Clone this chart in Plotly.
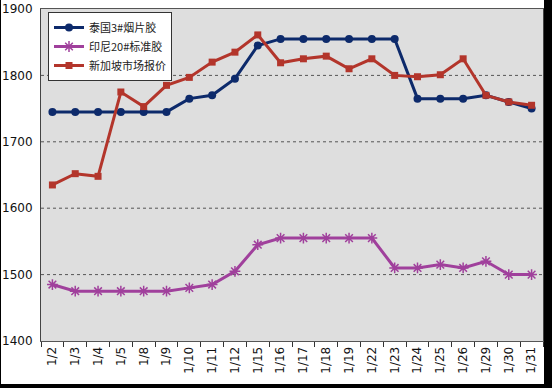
import plotly.graph_objects as go

dates = ["1/2","1/3","1/4","1/5","1/8","1/9","1/10","1/11","1/12","1/15","1/16",
         "1/17","1/18","1/19","1/22","1/23","1/24","1/25","1/26","1/29","1/30","1/31"]
thai = [1745,1745,1745,1745,1745,1745,1765,1770,1795,1845,1855,
        1855,1855,1855,1855,1855,1765,1765,1765,1770,1760,1750]
indo = [1485,1475,1475,1475,1475,1475,1480,1485,1505,1545,1555,
        1555,1555,1555,1555,1510,1510,1515,1510,1520,1500,1500]
sing = [1635,1652,1648,1775,1753,1785,1797,1820,1835,1861,1819,
        1825,1829,1810,1825,1800,1798,1801,1825,1770,1760,1755]
y_ticks = [1400,1500,1600,1700,1800,1900]

W, H = 552, 388
L, R, T, B = 41, 9, 9, 47
pw, ph = W - L - R, H - T - B

def px(x):
    return (x - L) / pw

def py(y):
    return (H - B - y) / ph

fig = go.Figure()
fig.add_trace(go.Scatter(x=dates, y=thai, name="泰国3#烟片胶", mode="lines+markers",
                         line=dict(color="#0d2a6b", width=3),
                         marker=dict(symbol="circle", size=8, color="#0d2a6b")))
fig.add_trace(go.Scatter(x=dates, y=indo, name="印尼20#标准胶", mode="lines+markers",
                         line=dict(color="#a0409c", width=3),
                         marker=dict(symbol="asterisk-open", size=9,
                                     line=dict(color="#b050ac", width=1.5))))
fig.add_trace(go.Scatter(x=dates, y=sing, name="新加坡市场报价", mode="lines+markers",
                         line=dict(color="#b3352b", width=3),
                         marker=dict(symbol="square", size=7, color="#b3352b")))

shapes = [
    dict(type="rect", xref="paper", yref="paper", x0=px(0), x1=px(1), y0=py(0), y1=py(H),
         fillcolor="black", line=dict(width=0), layer="above"),
    dict(type="rect", xref="paper", yref="paper", x0=px(544), x1=px(W), y0=py(0), y1=py(H),
         fillcolor="black", line=dict(width=0), layer="above"),
    dict(type="rect", xref="paper", yref="paper", x0=px(0), x1=px(W), y0=py(384), y1=py(H),
         fillcolor="black", line=dict(width=0), layer="above"),
]
for v in [1500, 1600, 1700, 1800]:
    shapes.append(dict(type="line", xref="paper", yref="y", x0=0, x1=1, y0=v, y1=v,
                       line=dict(color="#555555", width=1, dash="dot"), layer="below"))

fig.update_layout(
    width=W, height=H,
    margin=dict(l=L, r=R, t=T, b=B, pad=0, autoexpand=False),
    paper_bgcolor="white",
    plot_bgcolor="#dedede",
    font=dict(family="DejaVu Sans, Noto Sans CJK SC", size=12, color="#111111"),
    showlegend=True,
    legend=dict(x=px(48), y=py(12), xanchor="left", yanchor="top",
                bgcolor="white", bordercolor="#333333", borderwidth=1,
                font=dict(family="Noto Sans CJK SC, DejaVu Sans", size=11, color="#222222"),
                tracegroupgap=0, itemwidth=30),
    shapes=shapes,
    xaxis=dict(type="category", categoryorder="array", categoryarray=dates,
               tickangle=-90, ticks="outside", tickson="boundaries", ticklen=5,
               tickcolor="#333333", showgrid=False, showline=True, linecolor="#555555",
               linewidth=1, mirror=True, tickfont=dict(size=12, color="#111111"),
               range=[-0.5, len(dates) - 0.5], automargin=False),
    yaxis=dict(range=[1400, 1900], tickvals=y_ticks, ticks="", showgrid=False,
               showline=True, linecolor="#444444", linewidth=1, mirror=True,
               tickfont=dict(size=12, color="#111111"), zeroline=False,
               automargin=False, ticklabelstandoff=5),
)

fig.write_html("out.html", config={"displayModeBar": False},
               post_script="document.body.style.margin='0';document.body.style.overflow='hidden';")
